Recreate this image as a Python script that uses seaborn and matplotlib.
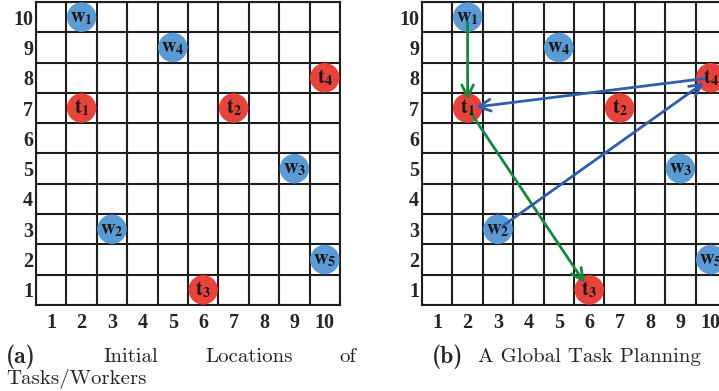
import matplotlib
matplotlib.use("Agg")
import matplotlib.pyplot as plt
import seaborn as sns
import pandas as pd

# points on the 10x10 grid
names = ["w1", "w2", "w3", "w4", "w5", "t1", "t2", "t3", "t4"]
xs = [2, 3, 9, 5, 10, 2, 7, 6, 10]
ys = [10, 3, 5, 9, 2, 7, 7, 1, 8]
kinds = ["worker"] * 5 + ["task"] * 4

# planned routes in panel (b)
green_route = [("w1", "t1"), ("t1", "t3")]
blue_route = [("w2", "t4"), ("t4", "t1")]

ticks = list(range(1, 11))

pts = pd.DataFrame({"name": names, "x": xs, "y": ys, "kind": kinds})
palette = {"worker": "#5b9bd5", "task": "#e8423b"}

sns.set_style("white")
plt.rcParams["mathtext.fontset"] = "stix"

fig = plt.figure(figsize=(7.19, 3.91), dpi=100)
ax_a = fig.add_axes([36 / 719, 86 / 391, 304 / 719, 303 / 391])
ax_b = fig.add_axes([422 / 719, 86 / 391, 304 / 719, 303 / 391])


def draw_grid(ax):
    sns.scatterplot(data=pts, x="x", y="y", hue="kind", palette=palette,
                    s=450, linewidth=0, legend=False, ax=ax, zorder=3)
    for _, r in pts.iterrows():
        ax.text(r.x, r.y, r"$\mathbf{%s}_{\mathbf{%s}}$" % (r["name"][0], r["name"][1]),
                ha="center", va="center", fontsize=14.5, color="#1a1a1a", zorder=5)
    ax.set_xlim(0.5, 10.5)
    ax.set_ylim(0.5, 10.5)
    ax.set_xticks(ticks)
    ax.set_yticks(ticks)
    ax.set_xticks([t + 0.5 for t in range(0, 11)], minor=True)
    ax.set_yticks([t + 0.5 for t in range(0, 11)], minor=True)
    ax.grid(which="minor", color="#1e1e1e", linewidth=1.5, zorder=1)
    ax.grid(which="major", visible=False)
    ax.set_axisbelow(True)
    ax.tick_params(which="both", length=0)
    ax.tick_params(axis="x", pad=6)
    ax.tick_params(axis="y", pad=2)
    for lab in ax.get_xticklabels() + ax.get_yticklabels():
        lab.set_fontfamily("Liberation Serif")
        lab.set_fontweight("bold")
        lab.set_fontsize(14.5)
    for sp in ax.spines.values():
        sp.set_color("#1e1e1e")
        sp.set_linewidth(1.5)
    ax.set_xlabel("")
    ax.set_ylabel("")


draw_grid(ax_a)
draw_grid(ax_b)

loc = {n: (x, y) for n, x, y in zip(names, xs, ys)}
for route, col in [(green_route, "#138a3c"), (blue_route, "#2f5fae")]:
    for a, b in route:
        ax_b.annotate("", xy=loc[b], xytext=loc[a],
                      arrowprops=dict(arrowstyle="->,head_length=0.7,head_width=0.35",
                                      color=col, lw=2.0, shrinkA=4, shrinkB=6,
                                      mutation_scale=12),
                      zorder=4)

# captions
cap_y1 = 1 - 357 / 391
cap_y2 = 1 - 379 / 391
fig.text(6 / 719, cap_y1, "(a)", fontfamily="cmb10", fontsize=17, va="center")
for word, xpx in [("Initial", 103), ("Locations", 205), ("of", 339)]:
    fig.text(xpx / 719, cap_y1, word, fontfamily="cmr10", fontsize=15, va="center")
fig.text(6 / 719, cap_y2, "Tasks/Workers", fontfamily="cmr10", fontsize=15, va="center")
fig.text(432 / 719, cap_y1, "(b)", fontfamily="cmb10", fontsize=17, va="center")
fig.text(478 / 719, cap_y1, "A Global Task Planning", fontfamily="cmr10", fontsize=15, va="center")

fig.savefig("out.png", dpi=100)
